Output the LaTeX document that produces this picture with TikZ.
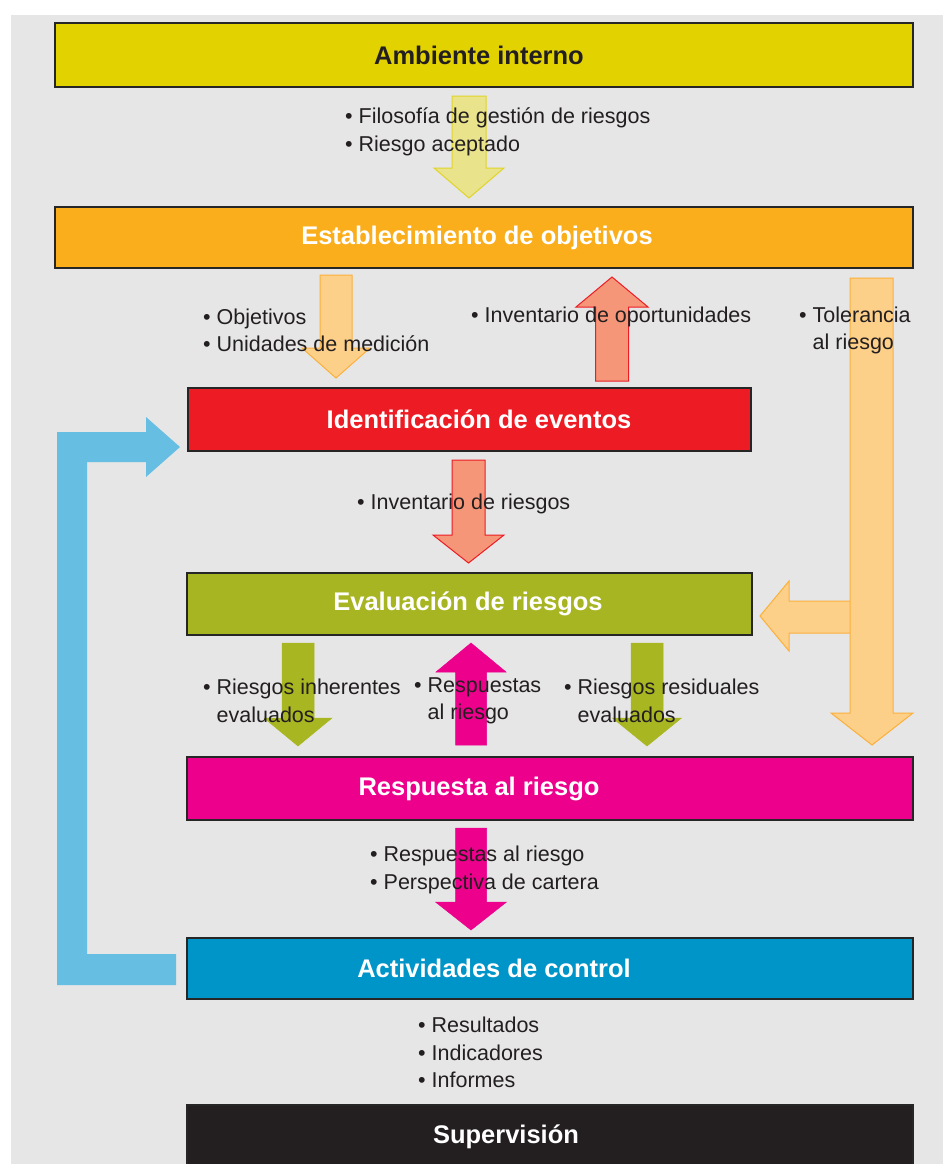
\documentclass[tikz,border=0pt]{standalone}
\usepackage{fontspec}
\setmainfont{Liberation Sans}
\definecolor{bggray}{RGB}{230,230,230}
\definecolor{ink}{RGB}{35,31,32}
\definecolor{cAmb}{RGB}{226,211,0}
\definecolor{cEst}{RGB}{251,174,28}
\definecolor{cIde}{RGB}{237,28,36}
\definecolor{cEva}{RGB}{168,181,34}
\definecolor{cRes}{RGB}{236,0,140}
\definecolor{cAct}{RGB}{0,149,201}
\definecolor{cSup}{RGB}{35,31,32}
\definecolor{yelF}{RGB}{233,227,140}
\definecolor{yelD}{RGB}{224,212,40}
\definecolor{oraF}{RGB}{253,208,138}
\definecolor{oraD}{RGB}{251,176,59}
\definecolor{redF}{RGB}{246,150,121}
\definecolor{redD}{RGB}{237,28,36}
\definecolor{grnF}{RGB}{168,182,34}
\definecolor{magF}{RGB}{236,0,140}
\definecolor{bluF}{RGB}{102,190,227}
\newcommand{\varr}[7]{\filldraw[#1] (#2-#6,#3) -- (#2-#6,#4) -- (#2-#7,#4) -- (#2,#5) -- (#2+#7,#4) -- (#2+#6,#4) -- (#2+#6,#3) -- cycle;}
\tikzset{
  stagebox/.style={draw=black!85, line width=1.5pt, inner sep=0pt, outer sep=0pt},
  stagelabel/.style={font=\fontsize{25.5}{28}\selectfont\bfseries, inner sep=0pt},
  bullettext/.style={font=\fontsize{21.5}{27.5}\selectfont, text=ink, align=left, anchor=west, inner sep=0pt},
  yarr/.style={fill=yelF, draw=yelD, line width=1pt},
  oarr/.style={fill=oraF, draw=oraD, line width=1pt},
  rarr/.style={fill=redF, draw=redD, line width=1pt},
  garr/.style={fill=grnF, draw=grnF, line width=0.5pt},
  marr/.style={fill=magF, draw=magF, line width=0.5pt},
  barr/.style={fill=bluF, draw=none},
}
\begin{document}
\begin{tikzpicture}[x=1pt,y=-1pt]
\useasboundingbox (0,0) rectangle (943,1164);
\clip (0,0) rectangle (943,1164);
\fill[white] (0,0) rectangle (943,1164);
\fill[bggray] (11,15) rectangle (943,1164);

% stage boxes
\node[stagebox, fill=cAmb, minimum width=858pt, minimum height=64pt] (amb) at (484,55) {};
\node[stagebox, fill=cEst, minimum width=858pt, minimum height=61pt] (est) at (484,237.5) {};
\node[stagebox, fill=cIde, minimum width=563pt, minimum height=63pt] (ide) at (469.5,419.5) {};
\node[stagebox, fill=cEva, minimum width=565pt, minimum height=62pt] (eva) at (469.5,604) {};
\node[stagebox, fill=cRes, minimum width=726pt, minimum height=63pt] (res) at (550,788.5) {};
\node[stagebox, fill=cAct, minimum width=726pt, minimum height=61pt] (act) at (550,968.5) {};
\node[stagebox, fill=cSup, minimum width=726pt, minimum height=70pt] (sup) at (550,1140) {};

% block arrows
\varr{yarr}{469}{96}{168}{198}{17}{35}
\varr{oarr}{336}{275}{348}{378}{16}{34}
\varr{rarr}{612}{381}{307}{277}{16.5}{36}
\varr{rarr}{468.5}{460}{535}{563}{16.5}{35.5}
\varr{garr}{298}{643}{718}{746}{16}{34}
\varr{marr}{471}{745}{672}{643}{15.5}{35}
\varr{garr}{647}{643}{718}{746}{16}{34.5}
\varr{marr}{471}{828}{902}{930}{15.5}{35.5}
% orange tolerance arrow with branch
\filldraw[oarr] (852,601) -- (789,601) -- (789,581) -- (760,616) -- (789,651) -- (789,633) -- (852,633) -- cycle;
\filldraw[oarr] (850,278) -- (893,278) -- (893,713) -- (913,713) -- (872,745) -- (831,713) -- (850,713) -- cycle;
% blue feedback arrow
\fill[barr] (57,432) -- (146,432) -- (146,417) -- (180,447) -- (146,477) -- (146,462) -- (87,462) -- (87,954) -- (176,954) -- (176,985) -- (57,985) -- cycle;

% stage labels
\node[stagelabel, text=ink] (ambT) at (479,55) {Ambiente interno};
\node[stagelabel, text=white] (estT) at (477,237.5) {Establecimiento de objetivos};
\node[stagelabel, text=white] (ideT) at (479,419.5) {Identificación de eventos};
\node[stagelabel, text=white] (evaT) at (468,604) {Evaluación de riesgos};
\node[stagelabel, text=white] (resT) at (479,788.5) {Respuesta al riesgo};
\node[stagelabel, text=white] (actT) at (494,968.5) {Actividades de control};
\node[stagelabel, text=white] (supT) at (506,1137) {Supervisión};

% bullet texts
\node[bullettext] (tA) at (345,132) {• Filosofía de gestión de riesgos\\• Riesgo aceptado};
\node[bullettext] (tB) at (203,330.5) {• Objetivos\\• Unidades de medición};
\node[bullettext] (tC) at (471,317) {• Inventario de oportunidades};
\node[bullettext] (tD) at (799,330.5) {• Tolerancia\\\phantom{• }al riesgo};
\node[bullettext] (tE) at (357,504) {• Inventario de riesgos};
\node[bullettext] (tF) at (203,701) {• Riesgos inherentes\\\phantom{• }evaluados};
\node[bullettext] (tG) at (414,701) {• Respuestas\\\phantom{• }al riesgo};
\node[bullettext] (tH) at (564,701) {• Riesgos residuales\\\phantom{• }evaluados};
\node[bullettext] (tI) at (370,870) {• Respuestas al riesgo\\• Perspectiva de cartera};
\node[bullettext] (tJ) at (418,1052.5) {• Resultados\\• Indicadores\\• Informes};
\end{tikzpicture}
\end{document}
